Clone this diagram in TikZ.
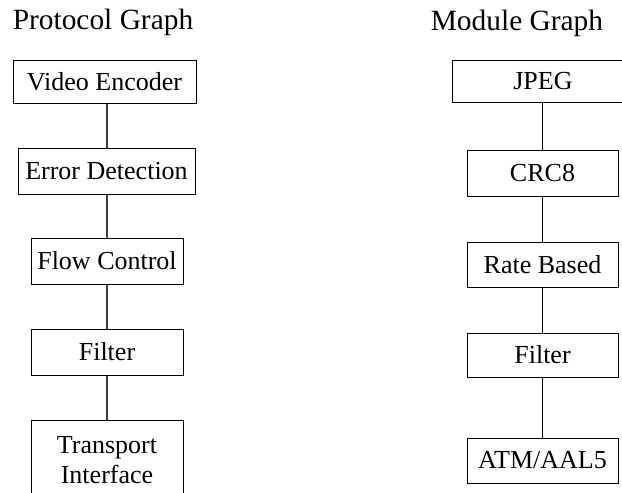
\documentclass[tikz,border=0pt]{standalone}
\usepackage{fontspec}
\setmainfont{Liberation Serif}
\usetikzlibrary{positioning}

\begin{document}
\begin{tikzpicture}[
  x=0.5pt, y=-0.5pt,
  font=\fontsize{13}{15}\selectfont,
  layer/.style={draw=black, fill=white, line width=0.5pt,
                inner sep=0pt, align=center, minimum height=23pt},
  link/.style={draw=black!75, line width=0.8pt},
  mlink/.style={draw=black, line width=0.5pt},
  title/.style={inner sep=0pt, font=\fontsize{14.7}{17}\selectfont},
]
\clip (0,0) rectangle (622,493);

% protocol graph
\node[title] (ptitle) at (103,22) {Protocol Graph};
\node[layer, minimum width=91.5pt, minimum height=21.5pt] (venc) at (104.5,81.5) {Video Encoder};
\node[layer, minimum width=88.5pt] (errdet) at (106.5,171) {Error Detection};
\node[layer, minimum width=76pt] (flowctl) at (107,261) {Flow Control};
\node[layer, minimum width=76pt] (pfilter) at (107,352) {Filter};
\node[layer, minimum width=76pt, minimum height=40pt] (transp) at (107,460)
  {Transport\\ Interface};

\draw[link] (venc.south -| flowctl.north) -- (errdet.north -| flowctl.north);
\draw[link] (errdet.south -| flowctl.north) -- (flowctl.north);
\draw[link] (flowctl) -- (pfilter);
\draw[link] (pfilter) -- (transp);

% module graph
\node[title] (mtitle) at (517,23) {Module Graph};
\node[layer, minimum width=91pt, minimum height=21pt] (jpeg) at (543,81) {JPEG};
\node[layer, minimum width=75.5pt] (crc) at (542.5,173) {CRC8};
\node[layer, minimum width=75.5pt, minimum height=22.5pt] (rate) at (542.5,264.5) {Rate Based};
\node[layer, minimum width=75.5pt, minimum height=22pt] (mfilter) at (542.5,355) {Filter};
\node[layer, minimum width=75.5pt, minimum height=22.5pt] (atm) at (542.5,460.5) {ATM/AAL5};

\draw[mlink] (jpeg.south -| crc.north) -- (crc.north);
\draw[mlink] (crc) -- (rate);
\draw[mlink] (rate) -- (mfilter);
\draw[mlink] (mfilter) -- (atm);
\end{tikzpicture}
\end{document}
